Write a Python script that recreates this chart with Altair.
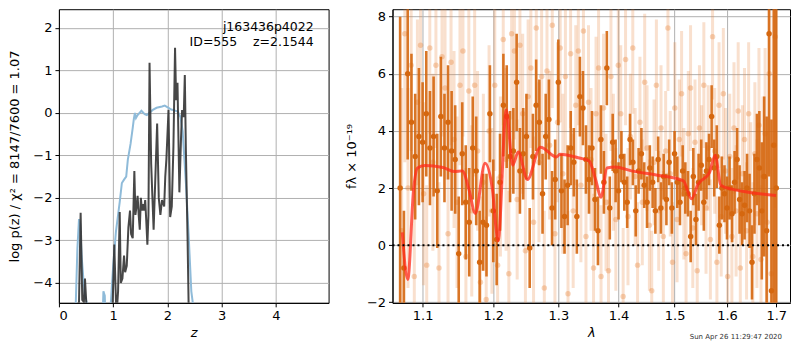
import altair as alt
import pandas as pd

FONT = "DejaVu Sans"

# ---------------- left panel: redshift PDF ----------------
pz_z = [0.30, 0.34, 0.37, 0.40, 0.43, 0.46, 0.48, 0.51, 0.54, 0.75, 0.98, 1.02, 1.06, 1.09,
        1.12, 1.14, 1.17, 1.20, 1.22, 1.25, 1.28, 1.31, 1.33, 1.36, 1.39, 1.41, 1.43, 1.45,
        1.47, 1.49, 1.51, 1.53, 1.55, 1.57, 1.59, 1.61, 1.63, 1.65, 1.67, 1.70, 1.745, 1.81,
        1.84, 1.87, 1.90, 1.94, 1.96, 1.98, 2.02, 2.05, 2.08, 2.11, 2.14, 2.16, 2.185, 2.22,
        2.25, 2.27, 2.30, 2.32, 2.34, 2.37, 2.39, 2.42]
pz_logp = [-5.0, -4.6, -4.45, -2.35, -4.4, -4.45, -3.9, -4.6, -5.5, -8.0, -5.0, -3.1, -4.8, -4.2,
           -2.33, -4.0, -3.9, -3.36, -3.75, -3.6, -2.7, -2.3, -2.85, -2.95, -1.37, -2.4, -2.2, -1.95,
           -2.4, -2.75, -2.0, -2.3, -2.15, -2.3, -2.05, -2.55, -3.1, -2.4, 1.18, -1.2, -2.75, -0.25,
           -2.0, -2.4, -2.05, -2.2, -1.5, -1.1, 0.07, -2.45, -2.2, -0.8, 1.53, 0.3, 0.71, -1.87,
           -0.6, 0.07, -0.1, 0.89, -0.9, -2.9, -4.5, -7.0]

chi_z = [0.28, 0.31, 0.34, 0.37, 0.39, 0.42, 0.45, 0.48, 0.52, 0.55, 0.75, 0.80, 0.82, 0.845,
         0.86, 0.92, 0.96, 1.00, 1.05, 1.08, 1.12, 1.16, 1.20, 1.24, 1.27, 1.32, 1.36, 1.38,
         1.40, 1.42, 1.45, 1.52, 1.58, 1.62, 1.73, 1.80, 1.90, 1.95, 2.02, 2.07, 2.13, 2.19,
         2.24, 2.28, 2.34, 2.39, 2.44, 2.47, 2.52]
chi_val = [-5.5, -4.5, -3.2, -2.5, -2.6, -3.4, -3.9, -4.3, -4.5, -5.5, -6.0, -5.0, -4.2, -4.3,
           -5.0, -5.0, -4.4, -3.6, -2.8, -2.5, -2.1, -1.65, -1.57, -1.5, -1.1, -0.73, -0.35, -0.15,
           0.0, -0.12, -0.05, 0.05, -0.03, -0.05, 0.07, 0.12, 0.15, 0.17, 0.12, 0.08, 0.06, 0.03,
           -0.1, -0.43, -1.65, -2.86, -4.2, -4.5, -6.0]

z_ticks = [0, 1, 2, 3, 4]
logp_ticks = [-4, -3, -2, -1, 0, 1, 2]

obj_name = "j163436p4022"
obj_info = "ID=555\u00a0\u00a0\u00a0\u00a0z=2.1544"

# ---------------- right panel: spectrum ----------------
dark_start, dark_step = 1.070, 0.005
dark_flux = [
    2.0, -0.8, 6.0, 4.3, 3.1, 3.8, 3.6, 4.6, 3.4, 3.8,
    1.9, 4.5, 3.4, 4.3, 3.3, 3.0, -0.3, 3.2, 1.5, 0.8,
    3.4, 2.6, -0.6, 0.8, 0.7, 4.6, 1.2, 0.2, 2.2, 4.9,
    4.5, 3.1, 3.3, 5.7, 2.6, 3.2, 3.8, -0.1, 3.1, 4.9,
    4.3, 1.8, 3.8, 4.4, 1.3, 2.3, 5.7, 1.9, 1.0, 2.1,
    3.4, 2.9, 1.0, 5.2, 4.8, 3.0, 2.3, 3.4, 1.6, 0.5,
    3.7, 2.2, 6.2, 1.3, 3.6, 2.6, 1.9, 3.1, 2.2, 1.5,
    3.7, 2.9, 1.2, 2.6, 3.2, 2.1, 1.5, 2.7, 2.2, 1.2,
    3.0, 1.3, 2.4, 1.6, 2.9, 1.3, 3.2, 2.2, 1.5, 2.6,
    2.0, 1.8, 0.3, 2.4, 0.9, 2.2, 2.8, 1.5, 2.6, 3.0,
    4.5, 2.7, 3.1, 0.7, 2.0, 1.8, 1.3, 2.0, 1.1, 2.2,
    3.0, 1.6, 1.1, 1.4, 2.0, 1.2, -0.6, 1.8, 3.0, 2.7,
    1.2, 2.4, 0.5, 7.4, -1.6, 3.5, 2.0]
dark_err = [
    6.0, 2.0, 3.0, 2.4, 2.2, 2.4, 2.1, 2.2, 2.0, 2.1,
    2.0, 2.1, 1.9, 2.0, 2.1, 1.9, 2.0, 1.8, 2.0, 1.9,
    1.8, 1.9, 1.8, 1.7, 1.8, 1.7, 1.8, 1.6, 1.7, 1.8,
    1.8, 1.6, 1.5, 1.7, 1.5, 1.6, 1.5, 1.4, 1.5, 1.6,
    1.5, 1.4, 1.5, 1.4, 1.3, 1.4, 1.5, 1.3, 1.3, 1.4,
    1.3, 1.2, 1.3, 1.4, 1.3, 1.2, 1.2, 1.3, 1.1, 1.2,
    1.2, 1.1, 1.3, 1.1, 1.0, 1.1, 1.0, 0.9, 1.0, 0.9,
    0.9, 0.8, 0.9, 0.8, 0.9, 0.8, 0.9, 0.8, 0.9, 0.8,
    0.8, 0.9, 0.8, 0.9, 0.8, 0.9, 0.8, 0.9, 0.8, 0.9,
    0.9, 0.8, 0.9, 1.0, 0.9, 1.0, 0.9, 1.0, 1.0, 0.9,
    1.1, 1.0, 1.1, 1.0, 1.1, 1.0, 1.1, 1.1, 1.0, 1.1,
    1.1, 1.2, 1.1, 1.2, 1.2, 1.3, 1.3, 1.4, 1.6, 2.0,
    2.4, 2.8, 4.0, 5.0, 6.0, 8.0, 10.0]

light_start, light_step = 1.072, 0.0042
light_flux = [
    0.5, 7.4, 2.0, 6.3, -1.1, 5.0, 7.0, 1.8, -0.7, 6.9,
    2.9, 6.3, -0.8, 6.6, 5.5, 0.4, 6.4, 3.7, 1.5, 5.6,
    6.8, -0.4, 5.4, 1.2, 5.6, 3.3, -1.3, 2.2, -1.9, 4.0,
    1.2, 5.6, -0.7, 2.4, 7.2, 3.0, -1.0, 7.4, 6.8, 1.6,
    7.0, 4.6, -0.2, 5.2, 6.2, 0.8, 7.6, 2.9, 5.9, -1.5,
    6.1, 3.5, 7.7, 0.4, 4.3, 6.9, 2.5, 5.9, -1.7, 6.7,
    1.2, 4.9, 6.8, 2.1, 7.5, 0.3, 5.0, 3.0, -0.8, 4.6,
    6.2, -1.1, 4.8, 1.5, -0.9, 5.9, 2.9, 0.9, 6.3, 4.6,
    -1.8, 6.5, 1.0, 3.8, 6.9, 2.4, -0.7, 4.3, 1.5, 5.7,
    3.4, 0.7, -1.6, 2.9, 5.6, 1.2, 4.1, 0.3, 3.3, 7.6,
    2.5, -0.6, 4.8, 0.9, 3.7, 5.3, 1.8, -0.3, 3.9, 5.5,
    0.6, 3.6, -0.9, 4.1, 2.8, 5.6, 1.3, 3.4, 0.2, 7.3,
    3.3, -0.6, 4.9, 1.0, 5.3, 2.6, -1.1, 3.1, 0.3, 4.1,
    1.2, 4.7, -0.8, 2.5, 3.7, 0.5, 4.6, 1.9, -0.4, 3.2,
    1.1, 4.2, -0.5, 2.4, 3.9, 0.8, 6.0, -1.0, 3.5, 7.3]
light_err = [
    5.0, 4.5, 3.5, 3.0, 3.1, 2.9, 3.0, 3.2, 2.8, 3.0,
    3.1, 2.9, 3.0, 2.8, 3.2, 3.0, 2.9, 3.1, 3.0, 2.8,
    3.0, 3.1, 2.9, 3.0, 3.2, 2.8, 3.0, 3.1, 2.9, 3.0,
    2.9, 3.0, 3.1, 2.8, 3.0, 3.2, 2.9, 3.0, 3.1, 2.8,
    3.0, 2.8, 2.9, 2.7, 2.8, 3.0, 2.7, 2.8, 2.9, 2.7,
    2.8, 2.6, 2.9, 2.7, 2.8, 2.6, 2.8, 2.7, 2.9, 2.6,
    2.7, 2.8, 2.6, 2.7, 2.8, 2.6, 2.7, 2.5, 2.6, 2.7,
    2.6, 2.5, 2.6, 2.4, 2.5, 2.6, 2.4, 2.5, 2.6, 2.4,
    2.4, 2.3, 2.4, 2.2, 2.3, 2.4, 2.2, 2.3, 2.2, 2.4,
    2.2, 2.3, 2.1, 2.2, 2.3, 2.1, 2.2, 2.3, 2.1, 2.2,
    2.2, 2.1, 2.3, 2.2, 2.1, 2.2, 2.3, 2.1, 2.2, 2.2,
    2.1, 2.2, 2.3, 2.2, 2.1, 2.2, 2.3, 2.2, 2.1, 2.2,
    2.2, 2.3, 2.2, 2.1, 2.3, 2.2, 2.3, 2.2, 2.4, 2.3,
    2.3, 2.4, 2.3, 2.4, 2.5, 2.4, 2.5, 2.4, 2.6, 2.5,
    2.6, 2.7, 2.6, 2.8, 3.0, 3.2, 3.5, 4.0, 5.0, 6.0]

model_wave = [1.0728, 1.0801, 1.0879, 1.0931, 1.1032, 1.1278, 1.1436, 1.1551, 1.1644, 1.1738,
              1.1879, 1.1990, 1.2040, 1.2071, 1.2193, 1.2290, 1.2374, 1.2514, 1.2716, 1.2973,
              1.3025, 1.3341, 1.3502, 1.3610, 1.3703, 1.3802, 1.3941, 1.4223, 1.4685, 1.5163,
              1.5316, 1.5439, 1.5656, 1.5769, 1.5877, 1.6101, 1.6427, 1.6995]
model_flux = [0.45, -1.2, 1.96, 2.70, 2.79, 2.72, 2.58, 2.60, 1.97, 1.11,
              2.87, 1.90, 0.60, 0.15, 4.73, 2.80, 3.26, 2.30, 3.43, 3.09,
              3.18, 3.05, 2.95, 2.30, 1.68, 2.70, 2.74, 2.60, 2.45, 2.25,
              1.62, 2.13, 2.53, 3.15, 2.10, 1.96, 1.85, 1.74]

wave_ticks = [1.1, 1.2, 1.3, 1.4, 1.5, 1.6, 1.7]
flux_ticks = [-2, 0, 2, 4, 6, 8]
timestamp = "Sun Apr 26 11:29:47 2020"

# ---------------- tables ----------------
df_pz = pd.DataFrame({"z": pz_z, "v": pz_logp})
df_chi = pd.DataFrame({"z": chi_z, "v": chi_val})

df_dark = pd.DataFrame({
    "wave": [round(dark_start + dark_step * i, 4) for i in range(len(dark_flux))],
    "flux": dark_flux, "err": dark_err})
df_light = pd.DataFrame({
    "wave": [round(light_start + light_step * i, 4) for i in range(len(light_flux))],
    "flux": light_flux, "err": light_err})
for d in (df_dark, df_light):
    d["lo"] = d["flux"] - d["err"]
    d["hi"] = d["flux"] + d["err"]
df_model = pd.DataFrame({"wave": model_wave, "flux": model_flux})

W1, W2, H = 270, 398, 294

# ---------------- left chart ----------------
xz = alt.X("z:Q", scale=alt.Scale(domain=[0, 4.97], nice=False, zero=False),
           axis=alt.Axis(values=z_ticks, title="z", titleFontStyle="italic", format="d"))
yz = alt.Y("v:Q", scale=alt.Scale(domain=[-4.47, 2.44], nice=False, zero=False),
           axis=alt.Axis(values=logp_ticks, title="log p(z) / χ² = 8147/7600 = 1.07",
                         titlePadding=11, format="d"))

chi_line = alt.Chart(df_chi).mark_line(color="#8fbbd9", strokeWidth=2, clip=True).encode(x=xz, y=yz)
pz_line = alt.Chart(df_pz).mark_line(color="#333333", strokeWidth=2, opacity=0.9, clip=True).encode(
    x=xz, y=yz)
t1 = alt.Chart(pd.DataFrame({"t": [obj_name]})).mark_text(
    align="right", baseline="alphabetic", fontSize=12.5, font=FONT, color="black").encode(
    x=alt.value(W1 - 15), y=alt.value(22), text="t:N")
t2 = alt.Chart(pd.DataFrame({"t": [obj_info]})).mark_text(
    align="right", baseline="alphabetic", fontSize=12.5, font=FONT, color="black").encode(
    x=alt.value(W1 - 15), y=alt.value(37), text="t:N")

left = alt.layer(chi_line, pz_line, t1, t2).properties(width=W1, height=H)

# ---------------- right chart ----------------
xs = alt.Scale(type="log", domain=[1.060, 1.729], nice=False, zero=False)
ys = alt.Scale(domain=[-2.02, 8.26], nice=False, zero=False)
xw = alt.X("wave:Q", scale=xs, axis=alt.Axis(values=wave_ticks, title="λ", titleFontStyle="italic",
                                             format=".1f"))
yaxis = alt.Axis(values=flux_ticks, title="fλ × 10⁻¹⁹", format="d", titlePadding=8)
yf = alt.Y("flux:Q", scale=ys, axis=yaxis)

LIGHT = "#e8843a"
DARK = "#d5670f"

light_bars = alt.Chart(df_light).mark_rule(color=LIGHT, opacity=0.25, strokeWidth=3, clip=True).encode(
    x=xw, y=alt.Y("lo:Q", scale=ys, axis=yaxis), y2="hi:Q")
light_pts = alt.Chart(df_light).mark_circle(color=LIGHT, opacity=0.35, size=30, clip=True).encode(
    x=xw, y=yf)
dark_bars = alt.Chart(df_dark).mark_rule(color=DARK, opacity=0.9, strokeWidth=2.6, clip=True).encode(
    x=xw, y=alt.Y("lo:Q", scale=ys, axis=yaxis), y2="hi:Q")
dark_pts = alt.Chart(df_dark).mark_circle(color=DARK, opacity=1, size=30, clip=True).encode(
    x=xw, y=yf)
model = alt.Chart(df_model).mark_line(color="#ff2a1a", strokeWidth=3, opacity=0.75, clip=True,
                                      interpolate="monotone").encode(x=xw, y=yf)
zero = alt.Chart(pd.DataFrame({"y0": [0]})).mark_rule(
    color="black", strokeWidth=2, strokeDash=[2, 3]).encode(
    y=alt.Y("y0:Q", scale=ys, axis=yaxis), x=alt.value(0), x2=alt.value(W2))
stamp = alt.Chart(pd.DataFrame({"t": [timestamp]})).mark_text(
    align="right", baseline="alphabetic", fontSize=7, font=FONT, color="#333333").encode(
    x=alt.value(W2 - 8), y=alt.value(H + 36), text="t:N")

right = alt.layer(light_bars, light_pts, dark_bars, dark_pts, model, zero, stamp).properties(
    width=W2, height=H)

chart = alt.hconcat(left, right, spacing=15).properties(
    padding={"left": 0, "top": 0, "right": 0, "bottom": 0}
).configure_view(
    stroke="black", strokeWidth=1
).configure_axis(
    labelFont=FONT, labelFontSize=13, titleFont=FONT, titleFontSize=13, titleFontWeight="normal",
    labelColor="black", titleColor="black", tickColor="black", domainColor="black",
    tickSize=4, labelPadding=3, gridColor="#b0b0b0", gridWidth=1, grid=True, titlePadding=4
)

chart.save("out.html", embed_options={"renderer": "svg", "actions": False})
